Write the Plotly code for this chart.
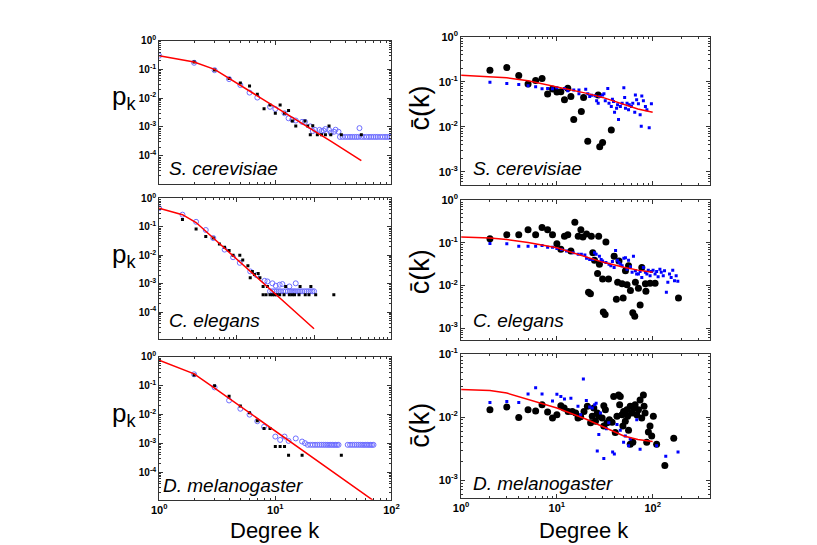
import plotly.graph_objects as go

W, H = 817, 545
OFF = 8  # page body margin

# ---------------- left column: p_k ----------------
# S. cerevisiae
sc_pk_fit_k = [1, 2, 3, 4, 5, 10, 20, 30, 55]
sc_pk_fit = [0.30, 0.18, 0.10, 0.049, 0.028, 0.0049, 0.00087, 0.00032, 0.000068]
sc_pk_black_k = [2, 3, 4, 5, 6, 7, 8, 9, 10, 11, 12, 13, 14, 15, 18, 19, 20, 21, 23, 25, 27, 29, 30, 37, 55]
sc_pk_black = [0.18, 0.096, 0.0485, 0.0336, 0.0265, 0.0137, 0.0043, 0.00575, 0.003, 0.00575, 0.003, 0.0037,
               0.0016, 0.00107, 0.0016, 0.00107, 0.00054, 0.0011, 0.00054, 0.00054, 0.00054, 0.00107,
               0.00054, 0.00054, 0.00054]
sc_pk_blue_k = [1, 2, 3, 4, 5, 6, 7, 9, 10, 12, 13, 14, 15, 17, 18, 20, 21, 22, 24, 25, 26, 27, 29, 30, 32, 33,
                35, 53, 36, 38, 40, 42, 44, 46, 48, 50, 52, 55, 58, 61, 64, 67, 70, 73, 76, 80, 84, 88, 92, 96, 100]
sc_pk_blue = [0.30, 0.17, 0.094, 0.046, 0.0286, 0.0156, 0.0105, 0.005, 0.0042, 0.003, 0.002, 0.0018, 0.00167,
              0.0015, 0.0015, 0.00105, 0.00072, 0.00079, 0.00079, 0.00072, 0.00075, 0.00085, 0.00079, 0.00063,
              0.00068, 0.0008, 0.00068, 0.00091, 0.00045, 0.00045, 0.00045, 0.00045, 0.00045, 0.00045, 0.00045,
              0.00045, 0.00045, 0.00045, 0.00045, 0.00045, 0.00045, 0.00045, 0.00045, 0.00045, 0.00045, 0.00045,
              0.00045, 0.00045, 0.00045, 0.00045, 0.00045]

# C. elegans
ce_pk_fit_k = [1, 2, 3, 5, 10, 20, 50, 100]
ce_pk_fit = [0.45, 0.266, 0.141, 0.04, 0.0078, 0.0014, 0.000145, 0.000026]
ce_pk_black_k = [2, 3, 4, 5, 6, 7, 8, 9, 11, 12, 14, 15, 16, 17, 19, 20, 22, 25, 22, 24, 27, 29, 31, 33, 36, 41,
                 43, 48, 52, 56, 64, 66, 77, 86, 91, 105, 180]
ce_pk_black = [0.18, 0.083, 0.045, 0.04, 0.0246, 0.019, 0.0145, 0.01, 0.01, 0.0068, 0.0043, 0.0016, 0.0027,
               0.0021, 0.0023, 0.0016, 0.0008, 0.0008, 0.00041, 0.00041, 0.00041, 0.00041, 0.00041, 0.00041,
               0.00041, 0.00041, 0.0008, 0.00041, 0.00041, 0.00041, 0.00041, 0.0008, 0.00041, 0.00041, 0.0008,
               0.00041, 0.00041]
ce_pk_blue_k = [1, 2, 3, 4, 5, 7, 9, 11, 15, 18, 23, 25, 29, 32, 36, 39, 48, 58, 27, 29, 31, 33, 35, 37, 40, 43,
                46, 49, 52, 55, 58, 62, 66, 70, 75, 80, 85, 90, 95, 100]
ce_pk_blue = [0.45, 0.266, 0.149, 0.077, 0.04, 0.0157, 0.0085, 0.0054, 0.0027, 0.002, 0.00126, 0.0012, 0.00103,
              0.00085, 0.00092, 0.00097, 0.0008, 0.00103, 0.00054, 0.00054, 0.00054, 0.00054, 0.00054, 0.00054,
              0.00054, 0.00054, 0.00054, 0.00054, 0.00054, 0.00054, 0.00054, 0.00054, 0.00054, 0.00054, 0.00054,
              0.00054, 0.00054, 0.00054, 0.00054, 0.00054]

# D. melanogaster
dm_pk_fit_k = [1, 2, 3, 5, 10, 20, 40, 70]
dm_pk_fit = [0.77, 0.26, 0.083, 0.0193, 0.00268, 0.00037, 0.000051, 0.0000105]
dm_pk_black_k = [1, 2, 3, 4, 5, 6, 7, 8, 9, 10, 11, 12, 13, 17, 37]
dm_pk_black = [0.8, 0.237, 0.1, 0.043, 0.02, 0.0117, 0.0061, 0.0033, 0.0033, 0.00079, 0.00079, 0.00079,
               0.00039, 0.00039, 0.00039]
dm_pk_blue_k = [2, 3, 4, 5, 6, 7, 8, 10, 11, 12, 13, 15, 17, 18, 19, 20, 21, 22, 23, 24, 25, 26, 27, 28, 29, 30,
                31, 32, 33, 34, 35, 42, 44, 46, 48, 50, 52, 54, 56, 58, 60, 62, 64, 66, 68, 70]
dm_pk_blue = [0.25, 0.088, 0.031, 0.016, 0.01, 0.0059, 0.0038, 0.00174, 0.00133, 0.00174, 0.00123, 0.0015,
              0.00117, 0.00103, 0.0009, 0.0009, 0.0009, 0.0009, 0.0009, 0.0009, 0.0009, 0.0009, 0.0009, 0.0009,
              0.0009, 0.0009, 0.0009, 0.0009, 0.0009, 0.0009, 0.0009, 0.0009, 0.0009, 0.0009, 0.0009, 0.0009,
              0.0009, 0.0009, 0.0009, 0.0009, 0.0009, 0.0009, 0.0009, 0.0009, 0.0009, 0.0009]

# ---------------- right column: c(k) ----------------
# S. cerevisiae
sc_ck_fit_k = [1, 2, 3, 5, 10, 20, 30, 50, 70, 100]
sc_ck_fit = [0.140, 0.132, 0.123, 0.105, 0.078, 0.056, 0.045, 0.032, 0.025, 0.021]
sc_ck_black_k = [2, 3, 4, 5, 6, 7, 8, 9, 10, 11, 12, 13, 14, 15, 18, 19, 21, 27, 28, 30, 37]
sc_ck_black = [0.18, 0.206, 0.138, 0.089, 0.107, 0.118, 0.0537, 0.069, 0.059, 0.06, 0.040, 0.0715, 0.047,
               0.0145, 0.022, 0.0446, 0.0048, 0.051, 0.0036, 0.0045, 0.0085]
sc_ck_blue_k = [2, 3, 4, 5, 6, 7, 8, 9, 10, 12, 13, 15, 17, 17, 20, 21, 22, 23, 25, 26, 27, 28, 30, 31, 32, 34,
                35, 37, 38, 39, 40, 42, 43, 44, 46, 48, 50, 51, 52, 54, 56, 57, 60, 62, 65, 66, 68, 71, 74, 76,
                77, 80, 84, 87, 92, 97]
sc_ck_blue = [0.098, 0.092, 0.0875, 0.082, 0.078, 0.070, 0.071, 0.070, 0.074, 0.071, 0.0635, 0.066, 0.054,
              0.066, 0.068, 0.054, 0.047, 0.050, 0.049, 0.038, 0.0336, 0.047, 0.051, 0.054, 0.038, 0.071,
              0.0336, 0.0284, 0.041, 0.0365, 0.021, 0.026, 0.031, 0.0145, 0.0284, 0.0336, 0.074, 0.045, 0.026,
              0.0336, 0.024, 0.031, 0.0284, 0.0336, 0.021, 0.051, 0.040, 0.0325, 0.0186, 0.0103, 0.0485, 0.038,
              0.0284, 0.024, 0.0095, 0.0325]

# C. elegans
ce_ck_fit_k = [1, 2, 3, 5, 10, 20, 30, 50, 70, 100]
ce_ck_fit = [0.138, 0.130, 0.120, 0.102, 0.077, 0.047, 0.0355, 0.027, 0.023, 0.0204]
ce_ck_black_k = [2, 3, 4, 5, 6, 7, 8, 9, 10, 11, 12, 13, 14, 15.4, 16.7, 17.8, 18.7, 20.4, 21.4, 22.4, 22.9,
                 23.7, 24.7, 26.6, 27.3, 27.8, 30, 30.5, 31.9, 32.5, 34.6, 39.6, 41.8, 43.1, 44.5, 48, 49.2, 52,
                 54, 56, 58.6, 62, 65, 66, 71, 74, 77, 84, 85, 94, 106, 186]
ce_ck_black = [0.126, 0.156, 0.156, 0.203, 0.156, 0.23, 0.203, 0.156, 0.095, 0.0715, 0.1425, 0.156, 0.0645,
               0.305, 0.1425, 0.203, 0.137, 0.161, 0.0070, 0.0064, 0.1425, 0.059, 0.039, 0.0193, 0.1425, 0.0316,
               0.0143, 0.0024, 0.0021, 0.105, 0.0143, 0.049, 0.00475, 0.0119, 0.0378, 0.011, 0.0051, 0.0222,
               0.0105, 0.029, 0.0077, 0.0023, 0.0019, 0.0119, 0.0087, 0.0035, 0.0265, 0.011, 0.0074, 0.0113,
               0.0113, 0.0051]
ce_ck_blue_k = [2, 3, 4, 5, 6, 7, 8, 9, 10, 11.2, 12.6, 14.8, 16.7, 18, 19.6, 20.4, 22, 23.7, 24.7, 25.7, 27.8,
                29, 30, 32.5, 35, 36.6, 38, 39.6, 41, 42.8, 44.5, 46.3, 48, 50, 52, 54, 56, 58.6, 61, 63, 66, 68,
                71, 74, 77, 80, 84, 87, 90, 94, 97, 101, 106, 110, 114, 119, 123, 129, 133, 139, 144, 150, 156,
                162, 169, 176, 183]
ce_ck_blue = [0.0966, 0.095, 0.084, 0.084, 0.084, 0.087, 0.079, 0.079, 0.074, 0.070, 0.0645, 0.059, 0.054,
              0.054, 0.052, 0.0435, 0.041, 0.041, 0.059, 0.054, 0.049, 0.041, 0.0378, 0.0346, 0.0316, 0.029,
              0.0365, 0.0265, 0.0665, 0.039, 0.0346, 0.0316, 0.029, 0.0435, 0.045, 0.0243, 0.039, 0.0275,
              0.0204, 0.049, 0.0222, 0.0186, 0.0186, 0.0214, 0.0155, 0.0265, 0.0204, 0.0186, 0.023, 0.017,
              0.0214, 0.023, 0.0186, 0.0214, 0.0162, 0.0243, 0.0204, 0.017, 0.0222, 0.007, 0.0119, 0.0186,
              0.0155, 0.023, 0.013, 0.017, 0.0126]

# D. melanogaster
dm_ck_fit_k = [1, 2, 3, 5, 10, 20, 30, 50, 70, 100]
dm_ck_fit = [0.0274, 0.0263, 0.024, 0.019, 0.0139, 0.0093, 0.0071, 0.005, 0.0044, 0.0041]
dm_ck_black_k = [2, 3, 4, 5, 6, 7, 8, 9, 10, 11, 11.9, 13.1, 14.5, 15.7, 16.6, 17.7, 19.2, 20.8, 22.5, 23.4,
                 24.3, 25.3, 26.4, 27.4, 29.7, 30.9, 30.9, 32.1, 33.4, 35.3, 37.7, 39.2, 40.7, 42.4, 44.1, 45.2,
                 45.9, 47.8, 48.9, 49.7, 51.8, 53.8, 54.7, 56, 58.3, 58.3, 60.7, 62.1, 63.1, 65.6, 68.2, 71.1,
                 73.9, 76.9, 80, 81.3, 83.3, 86.7, 90.2, 93.8, 97.7, 101.6, 110, 166, 134]
dm_ck_black = [0.0131, 0.0144, 0.0098, 0.0131, 0.0125, 0.0157, 0.012, 0.0097, 0.0109, 0.0151, 0.0139, 0.0123,
               0.0123, 0.0116, 0.0097, 0.0101, 0.0123, 0.0148, 0.0081, 0.0103, 0.0139, 0.0086, 0.0116, 0.0103,
               0.0097, 0.0151, 0.0072, 0.0131, 0.0081, 0.0091, 0.0083, 0.0211, 0.0057, 0.0103, 0.0224, 0.0157,
               0.0211, 0.0109, 0.0072, 0.0123, 0.0086, 0.0131, 0.0103, 0.0062, 0.0148, 0.0037, 0.0116, 0.004,
               0.0139, 0.0157, 0.0109, 0.0131, 0.0187, 0.0097, 0.0224, 0.0148, 0.0116, 0.004, 0.0058, 0.0072,
               0.005, 0.0103, 0.0037, 0.0046, 0.0017]
dm_ck_blue_k = [2, 3, 4, 5, 6, 7, 9, 10, 11, 12, 14, 16.6, 17.7, 18.9, 20.3, 22, 23.4, 24.8, 25.7, 26.4, 27.4,
                28.5, 30.9, 32.9, 34.8, 38.2, 39.8, 42.4, 45.9, 49.7, 51.8, 56, 58.3, 68.2, 73.9, 110, 137, 184]
dm_ck_blue = [0.017, 0.0177, 0.017, 0.0232, 0.0292, 0.0232, 0.018, 0.023, 0.0211, 0.0194, 0.0199, 0.0148,
              0.0109, 0.040, 0.0183, 0.0144, 0.0139, 0.0157, 0.0166, 0.0029, 0.0053, 0.0116, 0.0022, 0.0065,
              0.0081, 0.0028, 0.0026, 0.0076, 0.0062, 0.004, 0.005, 0.0035, 0.0045, 0.0091, 0.0031, 0.0035,
              0.0024, 0.0028]

species = ["S. cerevisiae", "C. elegans", "D. melanogaster"]


def px(x):
    return (x - OFF) / W


def py(y):
    return 1 - (y - OFF) / H


def sup(e):
    return "10<sup>%d</sup>" % e


fig = go.Figure()

# panel boxes in page pixels: (left, top, right, bottom), x log range, y log range
panels = [
    (154, 33, 391, 179, [0, 2], [-5, 0]),
    (462, 29, 716, 180, [0, 2.6], [-3.3, 0]),
    (154, 193, 391, 336, [0, 3], [-4.95, 0]),
    (462, 195, 716, 337, [0, 2.6], [-3.28, 0]),
    (154, 354, 391, 499, [0, 2], [-4.95, 0]),
    (462, 351, 716, 497, [0, 2.6], [-3.28, -1]),
]
ylabels = [[0, -1, -2, -3, -4], [0, -1, -2, -3], [0, -1, -2, -3, -4], [0, -1, -2, -3],
           [0, -1, -2, -3, -4], [-1, -2, -3]]

pk_data = [
    (sc_pk_fit_k, sc_pk_fit, sc_pk_black_k, sc_pk_black, sc_pk_blue_k, sc_pk_blue),
    (ce_pk_fit_k, ce_pk_fit, ce_pk_black_k, ce_pk_black, ce_pk_blue_k, ce_pk_blue),
    (dm_pk_fit_k, dm_pk_fit, dm_pk_black_k, dm_pk_black, dm_pk_blue_k, dm_pk_blue),
]
ck_data = [
    (sc_ck_fit_k, sc_ck_fit, sc_ck_black_k, sc_ck_black, sc_ck_blue_k, sc_ck_blue),
    (ce_ck_fit_k, ce_ck_fit, ce_ck_black_k, ce_ck_black, ce_ck_blue_k, ce_ck_blue),
    (dm_ck_fit_k, dm_ck_fit, dm_ck_black_k, dm_ck_black, dm_ck_blue_k, dm_ck_blue),
]

FONT = "Liberation Sans, Arial, sans-serif"
AX = "#333333"

for i, (l, t, r, b, xr, yr) in enumerate(panels):
    n = i + 1
    xa = "x" if n == 1 else "x%d" % n
    ya = "y" if n == 1 else "y%d" % n
    bottom = i >= 4
    right = i % 2 == 1
    xvals = [1, 10, 100] if xr[1] < 2.9 else [1, 10, 100, 1000]
    xaxis = dict(type="log", range=xr, domain=[px(l), px(r)], anchor=ya,
                 showline=True, linecolor=AX, linewidth=1, mirror="allticks",
                 ticks="inside", ticklen=4, tickcolor=AX, showgrid=False, zeroline=False,
                 tickmode="array", tickvals=xvals,
                 ticktext=["<b>" + sup(v) + "</b>" for v in range(len(xvals))],
                 showticklabels=bottom, tickfont=dict(family=FONT, size=11, color="black"),
                 minor=dict(dtick="D1", ticks="inside", ticklen=2, tickcolor=AX, showgrid=False))
    yv = ylabels[i]
    yaxis = dict(type="log", range=yr, domain=[py(b), py(t)], anchor=xa,
                 showline=True, linecolor=AX, linewidth=1, mirror="allticks",
                 ticks="inside", ticklen=4, tickcolor=AX, showgrid=False, zeroline=False,
                 tickmode="array", tickvals=[10.0 ** e for e in yv],
                 ticktext=["<b>" + sup(e) + "</b>" for e in yv],
                 tickfont=dict(family=FONT, size=11 if right else 10, color="black"),
                 minor=dict(dtick="D1", ticks="inside", ticklen=2, tickcolor=AX, showgrid=False))
    fig.layout["xaxis" if n == 1 else "xaxis%d" % n] = xaxis
    fig.layout["yaxis" if n == 1 else "yaxis%d" % n] = yaxis

    row = i // 2
    if not right:
        fk, fv, bk, bv, ck, cv = pk_data[row]
        fig.add_trace(go.Scatter(x=ck, y=cv, mode="markers", xaxis=xa, yaxis=ya,
                                 marker=dict(symbol="circle-open", size=5,
                                             color="rgb(110,110,255)", line=dict(width=1))))
        fig.add_trace(go.Scatter(x=bk, y=bv, mode="markers", xaxis=xa, yaxis=ya,
                                 marker=dict(symbol="square", size=3, color="black")))
        fig.add_trace(go.Scatter(x=fk, y=fv, mode="lines", xaxis=xa, yaxis=ya,
                                 line=dict(color="red", width=1.5)))
    else:
        fk, fv, bk, bv, ck, cv = ck_data[row]
        fig.add_trace(go.Scatter(x=bk, y=bv, mode="markers", xaxis=xa, yaxis=ya,
                                 marker=dict(symbol="circle", size=7, color="black")))
        fig.add_trace(go.Scatter(x=ck, y=cv, mode="markers", xaxis=xa, yaxis=ya,
                                 marker=dict(symbol="square", size=3, color="blue")))
        fig.add_trace(go.Scatter(x=fk, y=fv, mode="lines", xaxis=xa, yaxis=ya,
                                 line=dict(color="red", width=1.5)))


def label(x, y, text, size, **kw):
    d = dict(x=px(x), y=py(y), xref="paper", yref="paper", text=text, showarrow=False,
             xanchor="center", yanchor="middle", font=dict(family=FONT, size=size, color="black"))
    d.update(kw)
    return d


ann = []
for row, (top_l, top_r) in enumerate([(33, 29), (193, 195), (354, 351)]):
    # species names
    ann.append(label(156 if row == 2 else 162, [163, 317, 484][row], "<i>%s</i>" % species[row], 19,
                     xanchor="left"))
    ann.append(label(472, [163, 317, 482][row], "<i>%s</i>" % species[row], 19, xanchor="left"))
    # axis titles
    ann.append(label(118, top_l + 58, "p<sub>k</sub>", 26))
    ann.append(label(420, top_r + 72, "c\u0304(k)", 27, textangle=-90))

ann.append(label(272, 530, "Degree k", 22))
ann.append(label(587, 530, "Degree k", 22))

fig.update_layout(width=W, height=H, margin=dict(l=0, r=0, t=0, b=0), showlegend=False,
                  paper_bgcolor="white", plot_bgcolor="white", annotations=ann)

fig.write_html("out.html")
